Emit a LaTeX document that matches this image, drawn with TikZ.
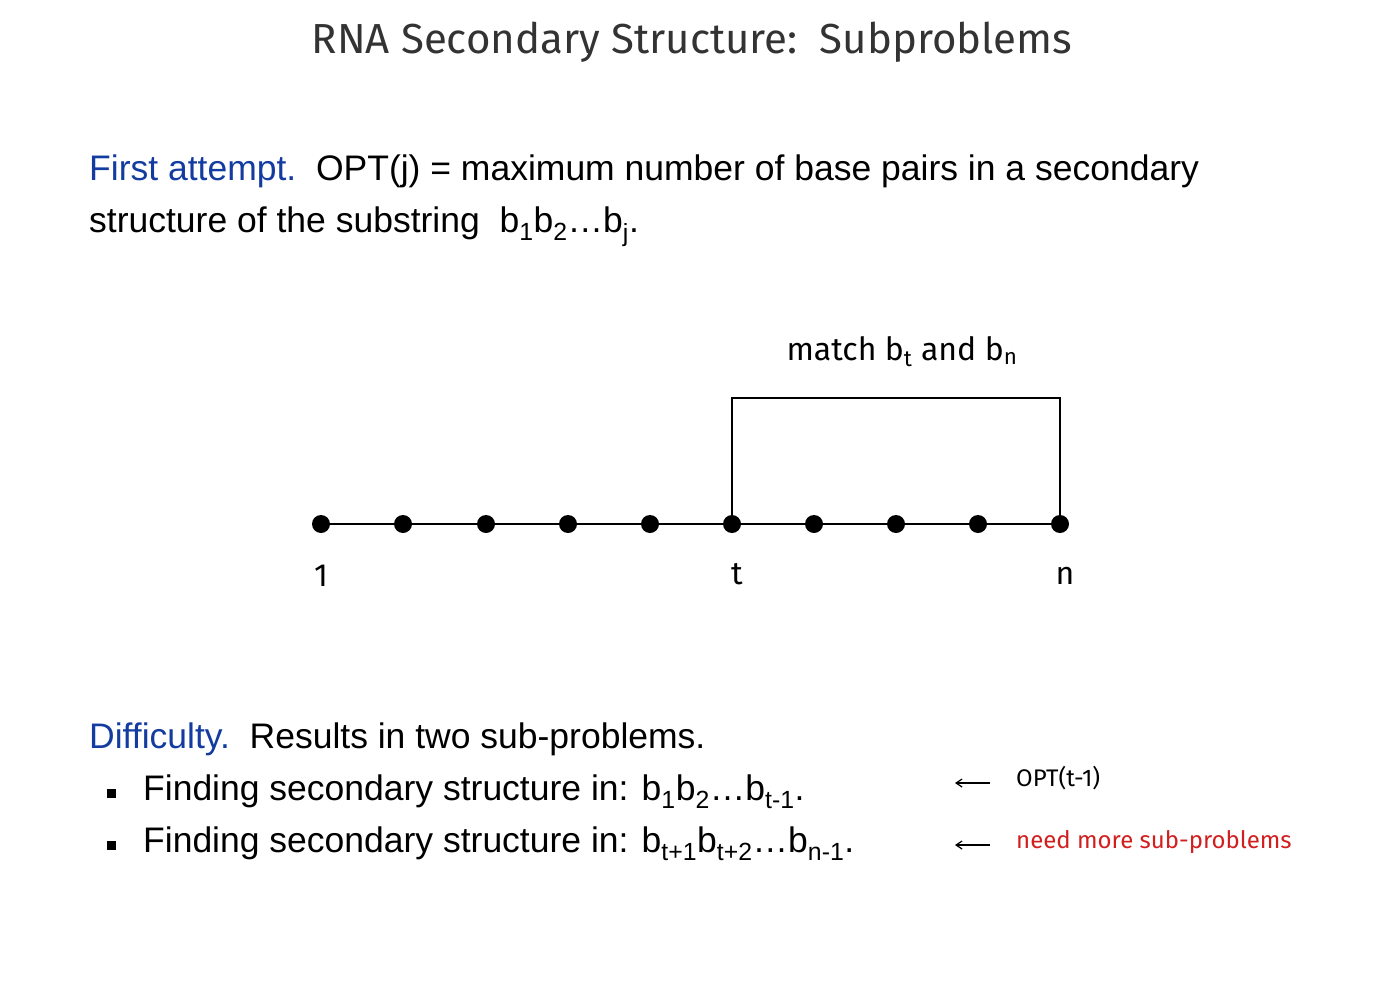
\documentclass[tikz,border=0pt]{standalone}
\usepackage{fontspec}
\setmainfont{Liberation Sans}
\newfontfamily\titlefont{Fira Sans}
\usetikzlibrary{arrows.meta}
\definecolor{myblue}{RGB}{20,60,160}
\definecolor{myred}{RGB}{210,30,30}
\newcommand{\sbs}[1]{\textsubscript{#1}}
\begin{document}
\begin{tikzpicture}[x=1pt,y=-1pt,
  body/.style={anchor=base west,inner sep=0,font=\fontsize{35.5}{42}\selectfont},
  lab/.style={inner sep=0,font=\titlefont\fontsize{32}{38}\selectfont},
  small/.style={anchor=base west,inner sep=0,font=\titlefont\fontsize{24}{28}\selectfont},
  dot/.style={circle,fill=black,inner sep=0,minimum size=18pt},
  arr/.style={-{Straight Barb[length=6pt,width=8pt]},line width=1.2pt}]
\useasboundingbox (0,0) rectangle (1393,985);
\node[inner sep=0,font=\titlefont\fontsize{42}{50}\selectfont,text=black!80] (title) at (692,42) {RNA Secondary Structure:\ \ Subproblems};
\node[body] (l1) at (89,180) {\textcolor{myblue}{First attempt.}\ \ OPT(j) = maximum number of base pairs in a secondary};
\node[body] (l2) at (89,232) {structure of the substring\ \ b\sbs{1}b\sbs{2}\ldots b\sbs{j}.};
\foreach \i/\x in {1/321,2/403,3/486,4/568,5/650,6/732,7/814,8/896,9/978,10/1060}
  \node[dot] (d\i) at (\x,524) {};
\draw[line width=1.5pt] (d1) -- (d10);
\coordinate (ct) at (732,398);
\coordinate (cn) at (1060,398);
\draw[line width=1.5pt] (d6) -- (ct) -- (cn) -- (d10);
\node[lab] (m) at (902,352) {match b\sbs{t} and b\sbs{n}};
\node[lab] (n1) at (321,576) {1};
\node[lab] (nt) at (737,574) {t};
\node[lab] (nn) at (1065,576) {n};
\node[body] (df) at (89,748) {\textcolor{myblue}{Difficulty.}\ \ Results in two sub-problems.};
\node[inner sep=0,fill=black,minimum size=9pt] (b1) at (111,793) {};
\node[inner sep=0,fill=black,minimum size=9pt] (b2) at (111,845) {};
\node[body] (f1) at (143,800) {Finding secondary structure in: b\sbs{1}b\sbs{2}\ldots b\sbs{t-1}.};
\node[body] (f2) at (143,852) {Finding secondary structure in: b\sbs{t+1}b\sbs{t+2}\ldots b\sbs{n-1}.};
\node[small] (o1) at (1016,786) {OPT(t-1)};
\node[small,text=myred] (o2) at (1016,848) {need more sub-problems};
\coordinate (a1) at (990,783); \coordinate (a2) at (955,783);
\coordinate (a3) at (990,845); \coordinate (a4) at (955,845);
\draw[arr] (a1) -- (a2);
\draw[arr] (a3) -- (a4);
\end{tikzpicture}
\end{document}
